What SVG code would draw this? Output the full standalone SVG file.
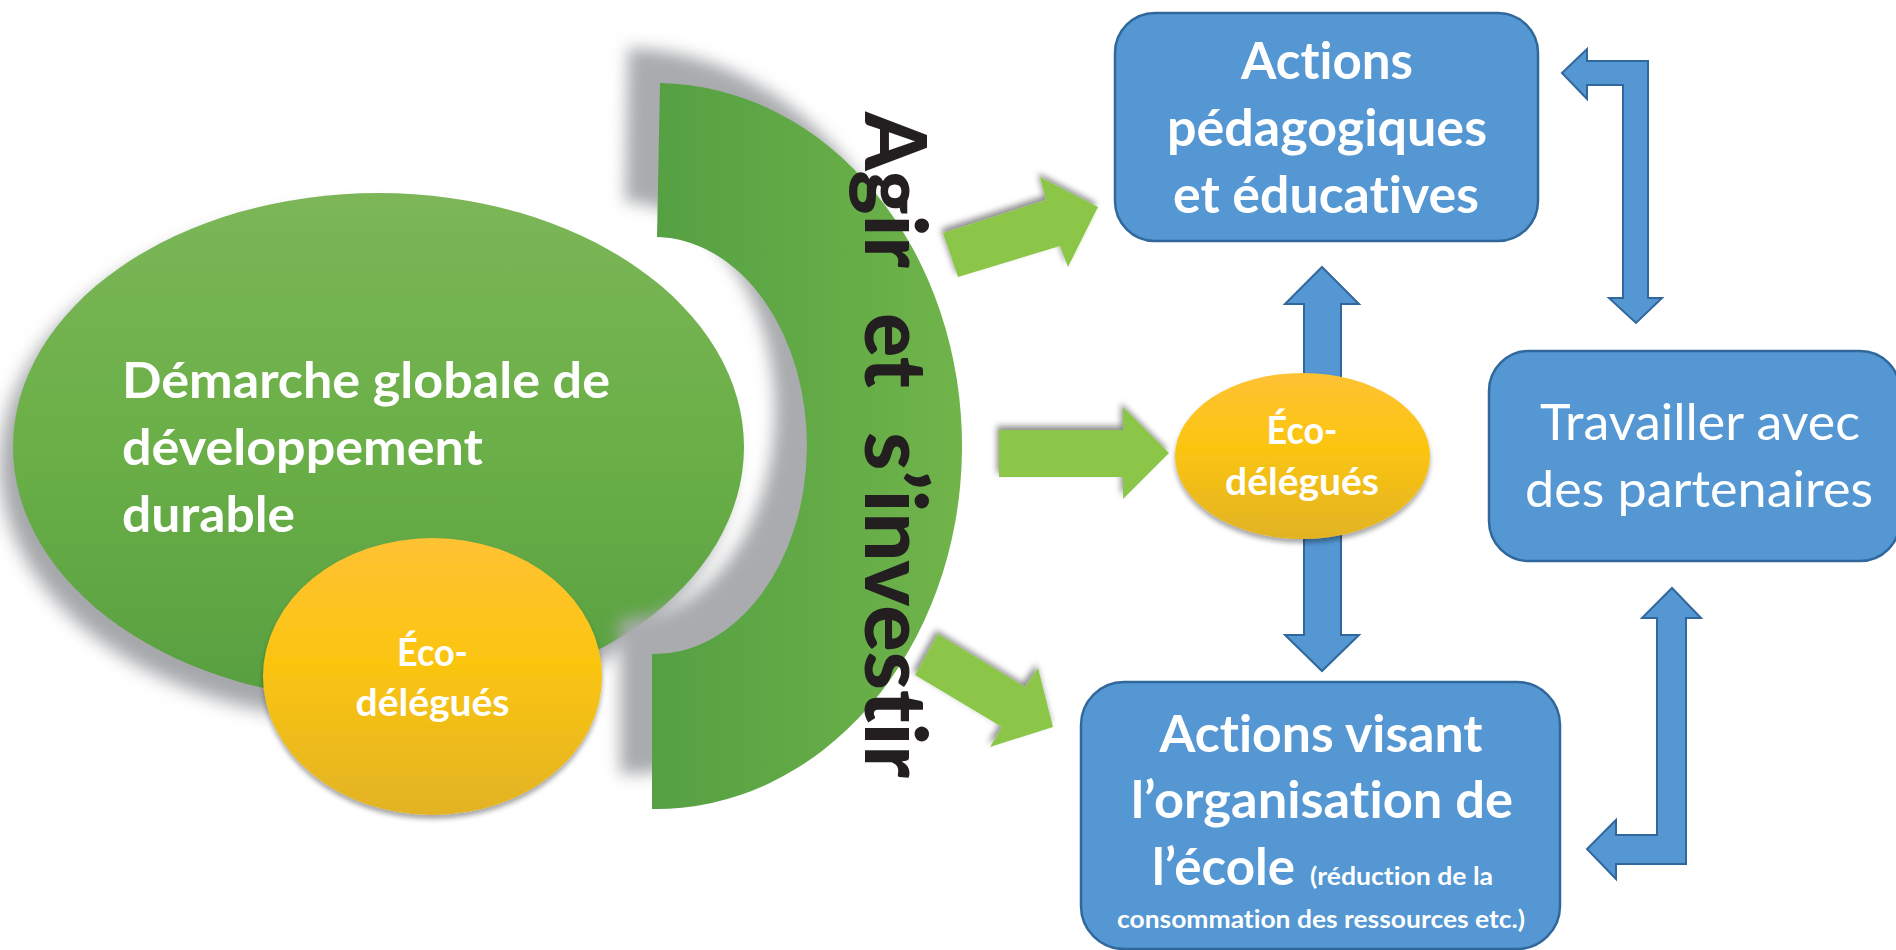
<svg xmlns="http://www.w3.org/2000/svg" width="1896" height="950" viewBox="0 0 1896 950">
<defs>
<linearGradient id="gBig" x1="0" y1="0" x2="0" y2="1">
<stop offset="0" stop-color="#7cb658"/>
<stop offset="0.5" stop-color="#6aaf47"/>
<stop offset="1" stop-color="#589f41"/>
</linearGradient>
<linearGradient id="gArc" x1="0" y1="0" x2="1" y2="0">
<stop offset="0" stop-color="#55a043"/>
<stop offset="1" stop-color="#70b44a"/>
</linearGradient>
<linearGradient id="gYel" x1="0" y1="0" x2="0" y2="1">
<stop offset="0" stop-color="#ffc234"/>
<stop offset="0.45" stop-color="#fbc510"/>
<stop offset="1" stop-color="#e2b325"/>
</linearGradient>
<filter id="blurBig" x="-20%" y="-20%" width="140%" height="140%"><feGaussianBlur stdDeviation="9"/></filter>
<filter id="blurArc" x="-20%" y="-20%" width="140%" height="140%"><feGaussianBlur stdDeviation="8"/></filter>
<filter id="dsUp" x="-20%" y="-40%" width="140%" height="180%">
<feGaussianBlur in="SourceAlpha" stdDeviation="3"/>
<feOffset dx="-2" dy="-4" result="b"/>
<feFlood flood-color="#000" flood-opacity="0.45"/>
<feComposite in2="b" operator="in"/>
<feMerge><feMergeNode/><feMergeNode in="SourceGraphic"/></feMerge>
</filter>
<filter id="dsDown" x="-10%" y="-10%" width="120%" height="130%">
<feGaussianBlur in="SourceAlpha" stdDeviation="2.5"/>
<feOffset dx="0" dy="4" result="b"/>
<feFlood flood-color="#000" flood-opacity="0.35"/>
<feComposite in2="b" operator="in"/>
<feMerge><feMergeNode/><feMergeNode in="SourceGraphic"/></feMerge>
</filter>
<path id="arcShape" d="M 660 83 A 306 363 0 0 1 652 809 L 652 654 A 152 208 0 0 0 657 237 Z"/>
</defs>
<style>
text{font-variant-ligatures:none;font-feature-settings:"liga" 0,"clig" 0,"dlig" 0}
.w{fill:#ffffff;font-family:Lato,"Liberation Sans",sans-serif;font-weight:700}
.reg{font-weight:400}
.mid{text-anchor:middle}
.box{fill:#5497d3;stroke:#31689b;stroke-width:2.5}
.blue{fill:#5497d3;stroke:#31689b;stroke-width:2;stroke-linejoin:miter}
.green{fill:#8cc64a}
.vt{fill:#231f20;font-family:Lato,"Liberation Sans",sans-serif;font-weight:900;font-size:86px}
</style>
<rect width="1896" height="950" fill="#ffffff"/>

<g id="demarche">
<ellipse cx="366" cy="465" rx="366" ry="256" fill="#a5a7aa" filter="url(#blurBig)"/>
<ellipse cx="378.5" cy="447" rx="365.5" ry="254" fill="url(#gBig)"/>
<text class="w" font-size="50" x="122" y="398" textLength="488" lengthAdjust="spacingAndGlyphs">Démarche globale de</text>
<text class="w" font-size="50" x="122" y="465" textLength="361" lengthAdjust="spacingAndGlyphs">développement</text>
<text class="w" font-size="50" x="122" y="532" textLength="173" lengthAdjust="spacingAndGlyphs">durable</text>
</g>

<g id="agir">
<use href="#arcShape" transform="translate(-32,-35)" fill="#a9abae" filter="url(#blurArc)"/>
<use href="#arcShape" fill="url(#gArc)"/>
<text class="vt" transform="translate(865,112) rotate(90)" x="0" y="0" textLength="156" lengthAdjust="spacingAndGlyphs">Agir</text>
<text class="vt" transform="translate(865,313) rotate(90)" x="0" y="0" textLength="75" lengthAdjust="spacingAndGlyphs">et</text>
<text class="vt" transform="translate(865,432) rotate(90)" x="0" y="0" textLength="346" lengthAdjust="spacingAndGlyphs">s’investir</text>
</g>

<g id="eco-left">
<ellipse cx="432.5" cy="676.5" rx="169.5" ry="138.5" fill="url(#gYel)" filter="url(#dsDown)"/>
<text class="w mid" font-size="38" x="432.5" y="666" textLength="71" lengthAdjust="spacingAndGlyphs">Éco-</text>
<text class="w mid" font-size="38" x="432.5" y="716" textLength="154" lengthAdjust="spacingAndGlyphs">délégués</text>
</g>

<g id="connectors">
<polygon class="green" filter="url(#dsUp)" points="943,233 1046,200 1040,177 1098,207 1068,267 1060,246 958,277"/>
<polygon class="green" filter="url(#dsUp)" points="999,430 1123,430 1123,407 1169,453 1123,499 1123,477 999,477"/>
<polygon class="green" filter="url(#dsUp)" points="938,634 1025,687 1038,668 1053,727 990,747 1002,727 915,675"/>
<polygon class="blue" points="1322,267 1359,304 1341,304 1341,635 1359,635 1322,671 1285,635 1304,635 1304,304 1285,304"/>
<polygon class="blue" points="1562,73 1587,49 1587,61 1648,61 1648,298 1662,298 1636,323 1609,298 1623,298 1623,85 1587,85 1587,99"/>
<polygon class="blue" points="1672,588 1701,618 1686,618 1686,864 1616,864 1616,879 1587,849 1616,820 1616,835 1657,835 1657,618 1642,618"/>
</g>

<g id="eco-mid">
<ellipse cx="1302.5" cy="456" rx="127.5" ry="83" fill="url(#gYel)" filter="url(#dsDown)"/>
<text class="w mid" font-size="38" x="1302" y="444" textLength="71" lengthAdjust="spacingAndGlyphs">Éco-</text>
<text class="w mid" font-size="38" x="1302" y="495" textLength="154" lengthAdjust="spacingAndGlyphs">délégués</text>
</g>

<g id="actions-peda">
<rect class="box" x="1115" y="13" width="423" height="228" rx="40" ry="40"/>
<text class="w mid" font-size="52" x="1327" y="79" textLength="172" lengthAdjust="spacingAndGlyphs">Actions</text>
<text class="w mid" font-size="52" x="1327" y="146" textLength="320" lengthAdjust="spacingAndGlyphs">pédagogiques</text>
<text class="w mid" font-size="52" x="1326" y="213" textLength="306" lengthAdjust="spacingAndGlyphs">et éducatives</text>
</g>

<g id="partenaires">
<rect class="box" x="1489" y="351" width="411" height="210" rx="40" ry="40"/>
<text class="w reg mid" font-size="50" x="1700" y="440" textLength="320" lengthAdjust="spacingAndGlyphs">Travailler avec</text>
<text class="w reg mid" font-size="50" x="1699" y="507" textLength="348" lengthAdjust="spacingAndGlyphs">des partenaires</text>
</g>

<g id="actions-orga">
<rect class="box" x="1081" y="682" width="479" height="267" rx="43" ry="43"/>
<text class="w mid" font-size="52" x="1321" y="752" textLength="323" lengthAdjust="spacingAndGlyphs">Actions visant</text>
<text class="w mid" font-size="52" x="1322" y="818" textLength="382" lengthAdjust="spacingAndGlyphs">l’organisation de</text>
<text class="w" font-size="52" x="1152" y="885" textLength="143" lengthAdjust="spacingAndGlyphs">l’école</text>
<text class="w" font-size="25" x="1310" y="885" textLength="183" lengthAdjust="spacingAndGlyphs">(réduction de la</text>
<text class="w mid" font-size="25" x="1321" y="928" textLength="408" lengthAdjust="spacingAndGlyphs">consommation des ressources etc.)</text>
</g>
</svg>
